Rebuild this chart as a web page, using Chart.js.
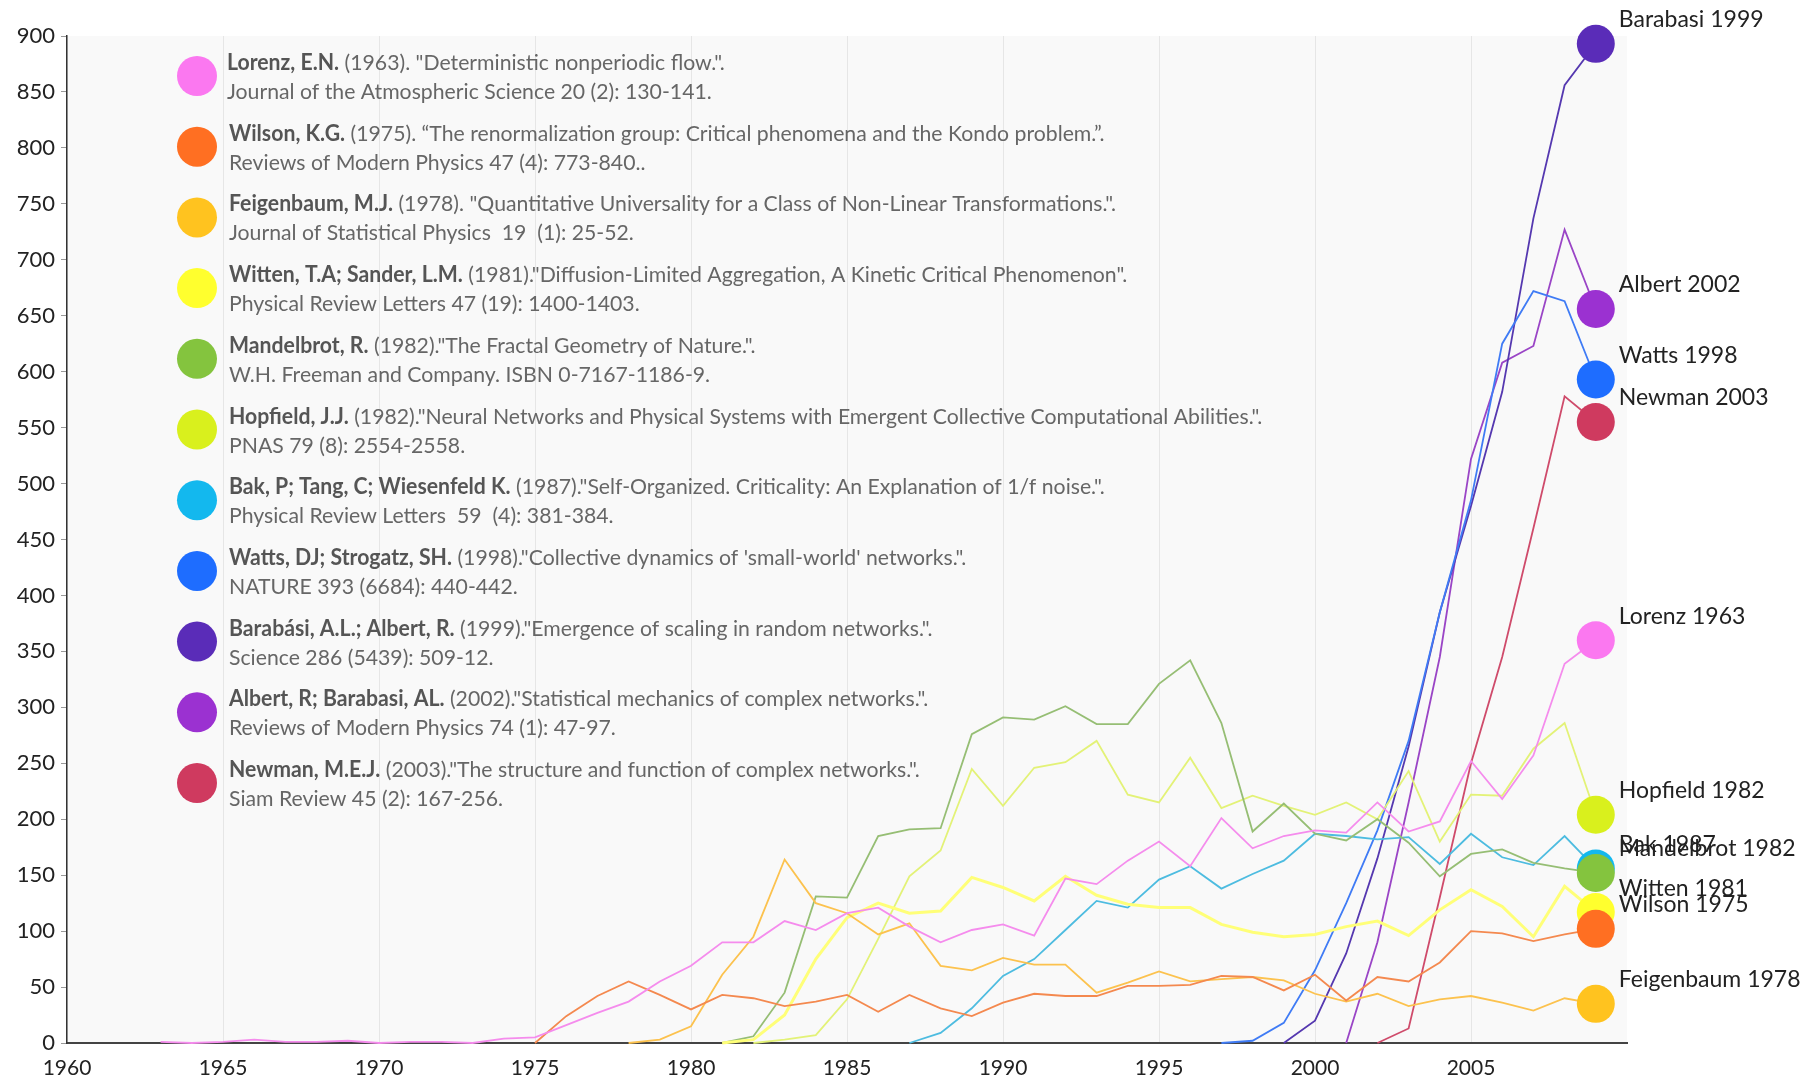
<!DOCTYPE html>
<html>
<head>
<meta charset="utf-8">
<script src="https://cdn.jsdelivr.net/npm/chart.js@4.4.0/dist/chart.umd.min.js"></script>
<style>
  body { margin: 0; background: #fff; }
  #chart { display: block; }
</style>
</head>
<body>
<canvas id="chart" width="1803" height="1082"></canvas>
<script>
// Citations per year, each series starts at its first year
const lorenzStart = 1963;
const lorenz = [1,0,1,3,1,1,2,0,1,1, 0,4,5,16,27,37,55,69,90,90, 109,101,116,121,104,90,101,106,96,147, 142,163,180,158,201,174,185,190,188,215, 189,198,252,218,257,339,360];
const wilsonStart = 1975;
const wilson = [0,24,42,55,43,30,43,40,33,37, 43,28,43,31,24,36,44,42,42,51, 51,52,60,59,47,61,38,59,55,72, 100,98,91,97,102];
const feigenbaumStart = 1978;
const feigenbaum = [0,3,15,61,95,164,125,116,97,107, 69,65,76,70,70,45,54,64,55,57, 59,56,44,37,44,33,39,42,36,29, 40,35];
const wittenStart = 1981;
const witten = [0,3,25,75,112,125,116,118,148,139, 127,149,132,124,121,121,106,99,95,97, 104,109,96,119,137,122,95,140,117];
const mandelbrotStart = 1981;
const mandelbrot = [0,6,45,131,130,185,191,192,276,291, 289,301,285,285,321,342,286,189,214,187, 181,200,179,149,169,173,161,156,152];
const hopfieldStart = 1982;
const hopfield = [0,3,7,39,93,149,172,245,212,246, 251,270,222,215,255,210,221,212,204,215, 200,243,180,222,221,263,286,204];
const bakStart = 1987;
const bak = [0,9,31,60,75,101,127,121,146,158, 138,151,163,187,185,182,184,160,187,166, 159,185,156];
const wattsStart = 1997;
const watts = [0,2,18,65,125,190,270,385,485,625,672,663,593];
const barabasiStart = 1999;
const barabasi = [0,20,80,165,265,385,480,582,737,856,893];
const albertStart = 2001;
const albert = [0,90,215,345,522,608,623,727,656];
const newmanStart = 2002;
const newman = [0,13,130,250,345,460,578,555];

const endLabels = ['Lorenz 1963','Wilson 1975','Feigenbaum 1978','Witten 1981','Mandelbrot 1982','Hopfield 1982','Bak 1987','Watts 1998','Barabasi 1999','Albert 2002','Newman 2003'];
const dotColors = ['#fb78f0','#ff6f22','#ffc31f','#ffff2e','#84c43e','#d9f01d','#13b8ee','#1e6dff','#5a2cb8','#9b31d1','#cf3a5f'];
const lineColors = ['#f58ced','#f4894f','#fcc24e','#ffff78','#96be74','#e3f277','#4dbce0','#3f7bf5','#5538b0','#9a45c6','#cf4b6b'];

const refBold = ['Lorenz, E.N.','Wilson, K.G.','Feigenbaum, M.J.','Witten, T.A; Sander, L.M.','Mandelbrot, R.','Hopfield, J.J.','Bak, P; Tang, C; Wiesenfeld K.','Watts, DJ; Strogatz, SH.','Barabási, A.L.; Albert, R.','Albert, R; Barabasi, AL.','Newman, M.E.J.'];
const refTitle = [
  ' (1963). "Deterministic nonperiodic flow.".',
  ' (1975). “The renormalization group: Critical phenomena and the Kondo problem.”.',
  ' (1978). "Quantitative Universality for a Class of Non-Linear Transformations.".',
  ' (1981)."Diffusion-Limited Aggregation, A Kinetic Critical Phenomenon".',
  ' (1982)."The Fractal Geometry of Nature.".',
  ' (1982)."Neural Networks and Physical Systems with Emergent Collective Computational Abilities.".',
  ' (1987)."Self-Organized. Criticality: An Explanation of 1/f noise.".',
  ' (1998)."Collective dynamics of \'small-world\' networks.".',
  ' (1999)."Emergence of scaling in random networks.".',
  ' (2002)."Statistical mechanics of complex networks.".',
  ' (2003)."The structure and function of complex networks.".'
];
const refJournal = [
  'Journal of the Atmospheric Science 20 (2): 130-141.',
  'Reviews of Modern Physics 47 (4): 773-840..',
  'Journal of Statistical Physics  19  (1): 25-52.',
  'Physical Review Letters 47 (19): 1400-1403.',
  'W.H. Freeman and Company. ISBN 0-7167-1186-9.',
  'PNAS 79 (8): 2554-2558.',
  'Physical Review Letters  59  (4): 381-384.',
  'NATURE 393 (6684): 440-442.',
  'Science 286 (5439): 509-12.',
  'Reviews of Modern Physics 74 (1): 47-97.',
  'Siam Review 45 (2): 167-256.'
];

const seriesStarts = [lorenzStart, wilsonStart, feigenbaumStart, wittenStart, mandelbrotStart, hopfieldStart, bakStart, wattsStart, barabasiStart, albertStart, newmanStart];
const seriesValues = [lorenz, wilson, feigenbaum, witten, mandelbrot, hopfield, bak, watts, barabasi, albert, newman];

const FONT = 'Lato, "Open Sans", sans-serif';

const datasets = seriesValues.map((vals, i) => ({
  label: endLabels[i],
  data: vals.map((v, k) => ({ x: seriesStarts[i] + k, y: v })),
  borderColor: lineColors[i],
  borderWidth: i === 3 ? 3 : 1.8,
  backgroundColor: dotColors[i],
  pointBackgroundColor: dotColors[i],
  pointBorderWidth: 0,
  pointRadius: c => c.dataIndex === vals.length - 1 ? 19 : 0,
  pointHoverRadius: c => c.dataIndex === vals.length - 1 ? 19 : 0,
  tension: 0,
  fill: false,
  clip: false
}));

// plot background
const plotBg = {
  id: 'plotBg',
  beforeDraw(chart) {
    const a = chart.chartArea, c = chart.ctx;
    c.save();
    c.fillStyle = '#f9f9f9';
    c.fillRect(a.left, a.top, a.right - a.left, a.bottom - a.top);
    c.restore();
  }
};

// reference list + end labels
const annotations = {
  id: 'annotations',
  afterDraw(chart) {
    const c = chart.ctx;
    const xs = chart.scales.x, ys = chart.scales.y;
    c.save();
    const sq = 0.965; // the original face is a bit narrower
    for (let i = 0; i < refBold.length; i++) {
      const cy = 76 + i * 70.7;
      c.fillStyle = dotColors[i];
      c.beginPath();
      c.arc(197, cy, 20, 0, Math.PI * 2);
      c.fill();

      const ty = cy - 13;
      c.save();
      c.translate(i === 0 ? 227 : 229, 0);
      c.scale(sq, 1);
      c.textBaseline = 'middle';
      c.textAlign = 'left';
      c.font = 'bold 22px ' + FONT;
      c.fillStyle = '#555';
      c.fillText(refBold[i], 0, ty);
      const bw = c.measureText(refBold[i]).width;
      c.font = '22px ' + FONT;
      c.fillStyle = '#666';
      c.fillText(refTitle[i], bw, ty);
      c.fillText(refJournal[i], 0, ty + 29);
      c.restore();
    }
    // labels at line ends
    c.font = '23px ' + FONT;
    c.fillStyle = '#222';
    c.textBaseline = 'middle';
    c.textAlign = 'left';
    seriesValues.forEach((vals, i) => {
      const last = vals.length - 1;
      const px = xs.getPixelForValue(seriesStarts[i] + last);
      const py = ys.getPixelForValue(vals[last]);
      c.fillText(endLabels[i], px + 23, py - 24);
    });
    c.restore();
  }
};

new Chart(document.getElementById('chart').getContext('2d'), {
  type: 'line',
  data: { datasets: datasets },
  options: {
    responsive: false,
    animation: false,
    events: [],
    layout: { padding: { top: 36, right: 176, left: 0, bottom: 0 } },
    plugins: { legend: { display: false }, tooltip: { enabled: false } },
    scales: {
      x: {
        type: 'linear',
        min: 1960,
        max: 2010,
        ticks: { stepSize: 5, color: '#222', padding: 13, font: { family: FONT, size: 21 }, maxRotation: 0, callback: v => String(v) },
        grid: { color: '#e6e6e6', lineWidth: 1, drawTicks: false },
        border: { color: '#444', width: 2 },
        afterBuildTicks: s => { s.ticks = s.ticks.filter(t => t.value < 2010); },
        afterFit: s => { s.height = 39; }
      },
      y: {
        min: 0,
        max: 900,
        ticks: { stepSize: 50, color: '#222', padding: 6, font: { family: FONT, size: 22 } },
        grid: { drawOnChartArea: false, drawTicks: true, tickLength: 6, color: '#999' },
        border: { color: '#333', width: 1.5 },
        afterFit: s => { s.width = 67; }
      }
    }
  },
  plugins: [plotBg, annotations]
});
</script>
</body>
</html>
